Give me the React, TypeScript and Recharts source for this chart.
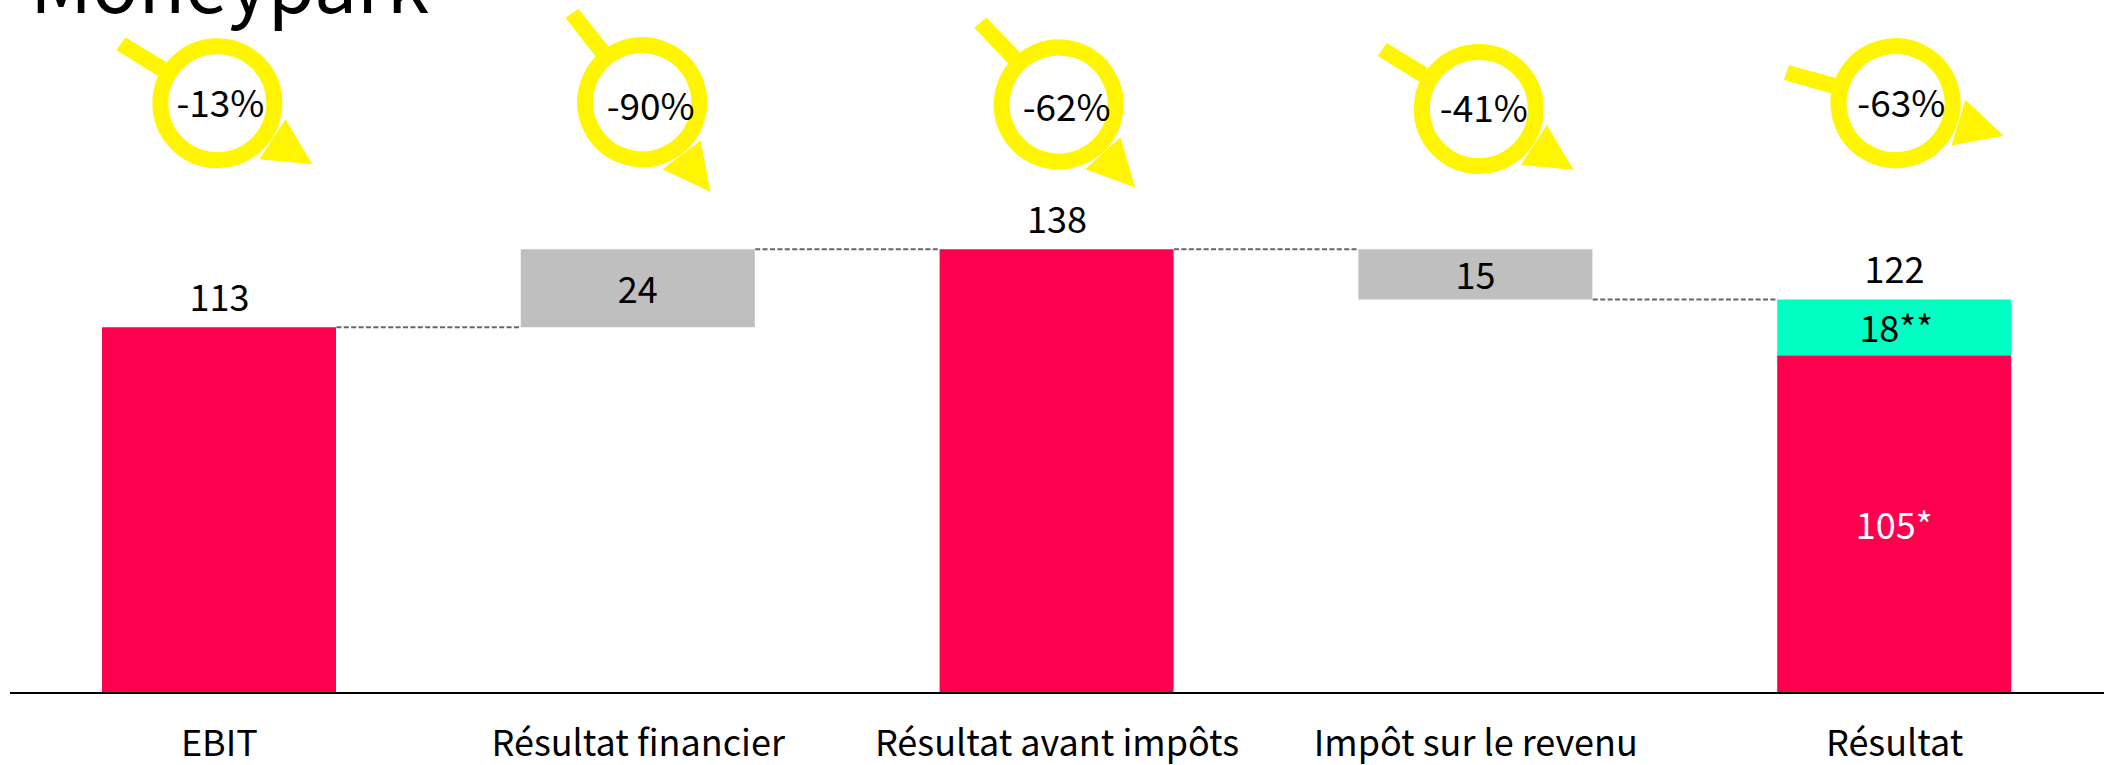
import { BarChart, Bar, XAxis, YAxis, LabelList, ReferenceDot, ReferenceLine } from 'recharts';

const FONT = '"Noto Sans CJK JP", "Noto Sans", sans-serif';
const BAR_WIDTH = 234;

const categories = ['EBIT', 'Résultat financier', 'Résultat avant impôts', 'Impôt sur le revenu', 'Résultat'];
// waterfall steps
const hiddenBase = [0, 113.7, 0, 122.4, 0];
const totals = [113.7, 0, 138, 0, 105];
const deltas = [0, 24.3, 0, 15.6, 0];
const extras = [0, 0, 0, 0, 17.4];

const topLabels = ['113', '', '138', '', '122'];
const totalLabels = ['', '', '', '', '105*'];
const deltaLabels = ['', '24', '', '15', ''];
const extraLabels = ['', '', '', '', '18**'];

const changes = ['-13%', '-90%', '-62%', '-41%', '-63%'];
const loopY = [183.4, 183.7, 183, 181.6, 183.4];
const loopShift = [-2, 4, 1.7, 3, 1];
const loopTurn = [0, 20, 14.6, 0, -16];
const changeDx = [3, 8.5, 8, 5, 5.7];
const changeDy = [14, 18, 16.4, 13, 13.7];

const rows = categories.map((name, i) => ({
  name,
  base: hiddenBase[i],
  total: totals[i],
  delta: deltas[i],
  extra: extras[i],
  top: topLabels[i],
  totalLabel: totalLabels[i],
  deltaLabel: deltaLabels[i],
  extraLabel: extraLabels[i],
}));

const connectors = [
  { from: 0, to: 1, y: 113.7 },
  { from: 1, to: 2, y: 138 },
  { from: 2, to: 3, y: 138 },
  { from: 3, to: 4, y: 122.4 },
];

function ChangeLoop({ cx, cy, index }: any) {
  const x = cx + loopShift[index];
  return (
    <g>
      <g transform={`translate(${x} ${cy}) rotate(${loopTurn[index]})`} fill="#fff500">
        <circle r={57} fill="none" stroke="#fff500" strokeWidth={16} />
        <polygon points="-92,-66 -101,-53 -59,-27 -51,-41" />
        <polygon points="68,16 95,61 42,56" />
      </g>
      <text
        x={x + changeDx[index]}
        y={cy + changeDy[index]}
        textAnchor="middle"
        fontSize={37}
        fontFamily={FONT}
        fill="#000"
      >
        {changes[index]}
      </text>
    </g>
  );
}

// dashed step between two bars, trimmed so it only shows in the gap
function Connector({ x1, y1, x2, y2 }: any) {
  return (
    <line
      x1={x1 + BAR_WIDTH / 2}
      y1={y1}
      x2={x2 - BAR_WIDTH / 2}
      y2={y2}
      stroke="#666"
      strokeWidth={2}
      strokeDasharray="5 2.4"
    />
  );
}

const labelStyle = { fontSize: 36, fontFamily: FONT };

export default function App() {
  return (
    <div style={{ position: 'absolute', left: 0, top: 0, width: 2114, height: 765, background: '#fff' }}>
      <BarChart
        width={2114}
        height={765}
        data={rows}
        barCategoryGap={0}
        margin={{ top: 0, right: 10, left: 10, bottom: 42 }}
      >
        <XAxis
          dataKey="name"
          interval={0}
          tickLine={false}
          axisLine={{ stroke: '#000', strokeWidth: 2 }}
          tickMargin={31}
          tick={{ ...labelStyle, fill: '#000' }}
        />
        <YAxis hide domain={[0, 215.5]} />
        {connectors.map((c) => (
          <ReferenceLine
            key={c.from}
            segment={[
              { x: categories[c.from], y: c.y },
              { x: categories[c.to], y: c.y },
            ]}
            shape={Connector}
          />
        ))}
        <Bar dataKey="base" stackId="a" fill="none" barSize={BAR_WIDTH} isAnimationActive={false} />
        <Bar dataKey="total" stackId="a" fill="#ff004f" barSize={BAR_WIDTH} isAnimationActive={false}>
          <LabelList dataKey="totalLabel" position="center" {...labelStyle} dy={2} fill="#fff" />
        </Bar>
        <Bar dataKey="delta" stackId="a" fill="#bfbfbf" barSize={BAR_WIDTH} isAnimationActive={false}>
          <LabelList dataKey="deltaLabel" position="center" {...labelStyle} dy={2} fill="#000" />
        </Bar>
        <Bar dataKey="extra" stackId="a" fill="#00ffc3" barSize={BAR_WIDTH} isAnimationActive={false}>
          <LabelList dataKey="extraLabel" position="center" {...labelStyle} dy={2} dx={2} fill="#000" />
        </Bar>
        {categories.map((name, i) => (
          <ReferenceDot
            key={name}
            x={name}
            y={loopY[i]}
            r={1}
            shape={(props: any) => <ChangeLoop {...props} index={i} />}
          />
        ))}
        {categories.map((name, i) =>
          topLabels[i] ? (
            <ReferenceDot
              key={`top-${name}`}
              x={name}
              y={totals[i] + extras[i]}
              r={1}
              shape={({ cx, cy }: any) => (
                <text x={cx} y={cy - 16} textAnchor="middle" {...labelStyle} fill="#000">
                  {topLabels[i]}
                </text>
              )}
            />
          ) : null,
        )}
      </BarChart>
      <div
        style={{
          position: 'absolute',
          left: 30,
          top: -70,
          fontFamily: FONT,
          fontSize: 76.5,
          lineHeight: '100px',
          color: '#000',
        }}
      >
        Moneypark
      </div>
    </div>
  );
}
